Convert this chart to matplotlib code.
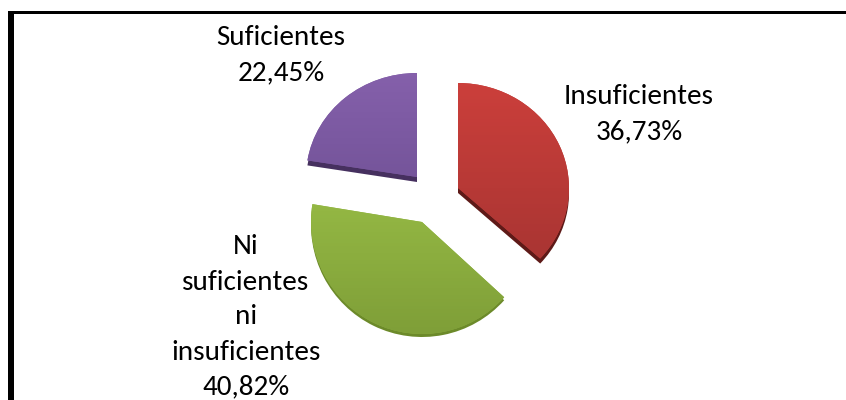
import matplotlib
matplotlib.use("Agg")
import numpy as np
import matplotlib.pyplot as plt
from matplotlib.patches import Wedge, Rectangle
from matplotlib.transforms import Affine2D

labels = ["Insuficientes", "Ni\nsuficientes\nni\ninsuficientes", "Suficientes"]
values = [36.73, 40.82, 22.45]
value_labels = ["36,73%", "40,82%", "22,45%"]
colors = ["#b83a37", "#8eb13f", "#7b5aa0"]
light_colors = ["#cb3f3b", "#a3c94c", "#8560ab"]
deep_colors = ["#a33331", "#7f9f38", "#65498a"]
dark_colors = ["#5e1a18", "#6c8a2a", "#46305f"]

W, H = 846, 400
plt.rcParams["font.family"] = ["Carlito", "Open Sans", "DejaVu Sans"]

fig = plt.figure(figsize=(W / 100, H / 100), dpi=100)
ax = fig.add_axes([0, 0, 1, 1])
ax.set_xlim(0, W)
ax.set_ylim(H, 0)
ax.axis("off")

# only the top and left edges of the frame are in the picture
ax.add_patch(Rectangle((8, 11), W - 8, 3, fc="black", ec="none"))
ax.add_patch(Rectangle((8, 11), 6, H - 11, fc="black", ec="none"))

# ---- pie slices, squashed a bit and pulled apart ----
rx = 111
radius_y = [105, 112, 104]
centers = [(458, 188), (422, 222), (417, 177)]
depths = [5, 3, 5]
label_pos = [(639, 114), (246, 317), (281, 55)]


def vertical_gradient(patch, light, deep, top, bottom):
    cmap = matplotlib.colors.LinearSegmentedColormap.from_list("g", [light, deep])
    im = ax.imshow(np.linspace(0, 1, 64).reshape(-1, 1), cmap=cmap, aspect="auto",
                   extent=[250, 600, bottom, top], zorder=2)
    im.set_clip_path(patch)


start = 90.0
for i, val in enumerate(values):
    sweep = val / 100 * 360
    t1 = start - sweep
    c = centers[i]
    ry = radius_y[i]
    tf = Affine2D().scale(rx, -ry).translate(c[0], c[1]) + ax.transData
    tf2 = Affine2D().scale(rx, -ry).translate(c[0], c[1] + depths[i]) + ax.transData
    ax.add_patch(Wedge((0, 0), 1, t1, start, fc=dark_colors[i], ec="none", transform=tf2, zorder=1))
    face = Wedge((0, 0), 1, t1, start, fc=colors[i], ec="none", transform=tf, zorder=2)
    ax.add_patch(face)
    vertical_gradient(face, light_colors[i], deep_colors[i], c[1] - ry, c[1] + ry)
    start = t1

ax.set_xlim(0, W)
ax.set_ylim(H, 0)

for i in range(3):
    ax.text(label_pos[i][0], label_pos[i][1], labels[i] + "\n" + value_labels[i],
            ha="center", va="center", fontsize=21, linespacing=1.5, color="black")

fig.savefig("out.png", dpi=100)
